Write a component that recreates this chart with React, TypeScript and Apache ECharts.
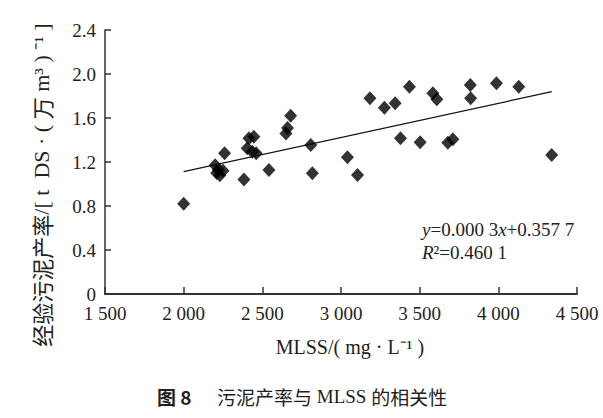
import React, { useEffect, useRef } from "react";
import * as echarts from "echarts";

const mlss = [2000, 2200, 2220, 2250, 2230, 2210, 2260, 2383, 2415, 2446, 2404, 2436, 2461, 2542, 2680, 2660, 2650, 2808, 2818, 3041, 3105, 3184, 3276, 3344, 3435, 3378, 3503, 3584, 3609, 3679, 3711, 3822, 3824, 3988, 4130, 4339];
const yieldRate = [0.82, 1.17, 1.13, 1.12, 1.08, 1.1, 1.28, 1.04, 1.415, 1.43, 1.325, 1.294, 1.279, 1.127, 1.62, 1.51, 1.46, 1.355, 1.097, 1.243, 1.082, 1.779, 1.694, 1.734, 1.885, 1.415, 1.379, 1.825, 1.77, 1.375, 1.406, 1.9, 1.779, 1.915, 1.885, 1.264];
const fitX = [2000, 4340];
const fitY = [1.112, 1.839];
const xTicks = [1500, 2000, 2500, 3000, 3500, 4000, 4500];
const yTicks = [0, 0.4, 0.8, 1.2, 1.6, 2.0, 2.4];

const serif = "Liberation Serif";
const cjk = "Noto Sans CJK SC";

function fmtX(v: number) {
  const s = String(v);
  return s.length > 3 ? s.slice(0, s.length - 3) + " " + s.slice(-3) : s;
}

export default function App() {
  const ref = useRef<HTMLDivElement>(null);
  useEffect(() => {
    if (!ref.current) return;
    document.body.style.margin = "0";
    const chart = echarts.init(ref.current, undefined, { renderer: "svg" });
    chart.setOption({
      animation: false,
      backgroundColor: "#ffffff",
      grid: { left: 105, right: 26, top: 30, bottom: 124 },
      xAxis: {
        type: "value",
        min: xTicks[0],
        max: xTicks[xTicks.length - 1],
        interval: 500,
        axisLine: { lineStyle: { color: "#333", width: 2 } },
        axisTick: { inside: true, length: 7, lineStyle: { color: "#333", width: 1.5 } },
        axisLabel: {
          color: "#222",
          fontFamily: serif,
          fontSize: 19,
          margin: 10,
          formatter: (v: number) => fmtX(v),
        },
        splitLine: { show: false },
      },
      yAxis: {
        type: "value",
        min: yTicks[0],
        max: yTicks[yTicks.length - 1],
        interval: 0.4,
        axisLine: { show: true, lineStyle: { color: "#333", width: 1.5 } },
        axisTick: { show: true, inside: true, length: 6, lineStyle: { color: "#333", width: 1.5 } },
        axisLabel: {
          color: "#222",
          fontFamily: serif,
          fontSize: 19,
          margin: 9,
          formatter: (v: number) => (v === 0 ? "0" : v.toFixed(1)),
        },
        splitLine: { show: false },
      },
      series: [
        {
          type: "scatter",
          data: mlss.map((x, i) => [x, yieldRate[i]]),
          symbol: "diamond",
          symbolSize: [13, 14],
          itemStyle: { color: "#000" },
          z: 3,
        },
        {
          type: "line",
          data: fitX.map((x, i) => [x, fitY[i]]),
          showSymbol: false,
          symbol: "none",
          lineStyle: { color: "#111", width: 1.2 },
          z: 2,
        },
      ],
      graphic: [
        {
          type: "text",
          x: 41,
          y: 185,
          rotation: Math.PI / 2,
          style: {
            text: "{c|经验污泥产率}/[ t  DS · ( {c|万} m³ ) ⁻¹ ]",
            fontFamily: serif,
            fontSize: 22,
            fill: "#222",
            align: "center",
            verticalAlign: "middle",
            rich: { c: { fontFamily: cjk, fontSize: 22, fill: "#222" } },
          },
        },
        {
          type: "text",
          x: 350,
          y: 347,
          style: {
            text: "MLSS/( mg · L⁻¹ )",
            fontFamily: serif,
            fontSize: 20,
            fill: "#222",
            align: "center",
            verticalAlign: "middle",
          },
        },
        {
          type: "text",
          x: 422,
          y: 229,
          style: {
            text: "{i|y}=0.000 3{i|x}+0.357 7",
            fontFamily: serif,
            fontSize: 19,
            fill: "#222",
            align: "left",
            verticalAlign: "middle",
            rich: { i: { fontStyle: "italic", fontFamily: serif, fontSize: 19, fill: "#222" } },
          },
        },
        {
          type: "text",
          x: 422,
          y: 252,
          style: {
            text: "{i|R}²=0.460 1",
            fontFamily: serif,
            fontSize: 19,
            fill: "#222",
            align: "left",
            verticalAlign: "middle",
            rich: { i: { fontStyle: "italic", fontFamily: serif, fontSize: 19, fill: "#222" } },
          },
        },
        {
          type: "text",
          x: 157,
          y: 396,
          style: {
            text: "图 8",
            fontFamily: cjk,
            fontWeight: "bold",
            fontSize: 19,
            fill: "#222",
            align: "left",
            verticalAlign: "middle",
          },
        },
        {
          type: "text",
          x: 217,
          y: 396,
          style: {
            text: "{c|污泥产率与} MLSS {c|的相关性}",
            fontFamily: serif,
            fontSize: 19,
            fill: "#222",
            align: "left",
            verticalAlign: "middle",
            rich: { c: { fontFamily: cjk, fontSize: 19, fill: "#222" } },
          },
        },
      ],
    });
    return () => chart.dispose();
  }, []);
  return <div ref={ref} style={{ width: 603, height: 418 }} />;
}
